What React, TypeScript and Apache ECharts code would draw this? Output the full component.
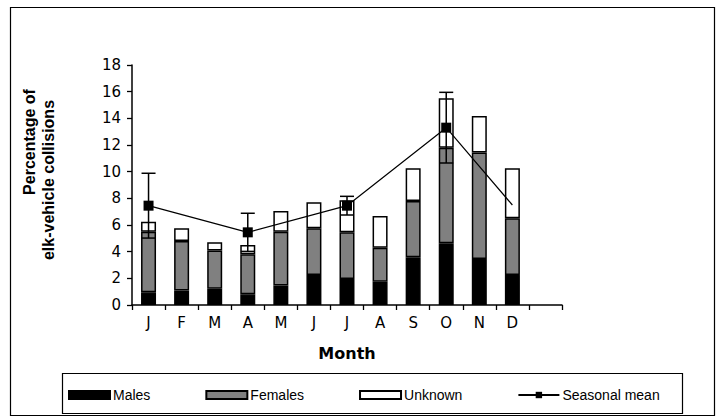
import React, { useEffect, useRef } from "react";
import * as echarts from "echarts";

const months = ["J", "F", "M", "A", "M", "J", "J", "A", "S", "O", "N", "D", ""];
const males = [0.95, 1.08, 1.22, 0.8, 1.47, 2.25, 1.95, 1.75, 3.58, 4.63, 3.45, 2.25, null];
const females = [4.55, 3.72, 2.86, 3.0, 4.03, 3.5, 3.5, 2.55, 4.22, 7.17, 7.98, 4.25, null];
const unknown = [0.75, 0.95, 0.62, 0.7, 1.55, 1.95, 2.4, 2.38, 2.45, 3.7, 2.75, 3.75, null];
const seasonalMean = [7.45, null, null, 5.45, null, null, 7.45, null, null, 13.3, null, 7.5, null];
const seasonalErr = [2.43, null, null, 1.43, null, null, 0.7, null, null, 2.65, null, null, null];
const yTicks = { min: 0, max: 18, interval: 2 };

const FONT = "Liberation Sans";
const WIDE = "DejaVu Sans";

export default function App() {
  const ref = useRef<HTMLDivElement>(null);
  useEffect(() => {
    const chart = echarts.init(ref.current!, null, { renderer: "svg" });
    const errData = seasonalMean
      .map((m, i) => (m != null && seasonalErr[i] != null ? [i, m, seasonalErr[i]] : null))
      .filter((d) => d != null);
    const barBorder = { borderColor: "#000", borderWidth: 1.5 };
    chart.setOption({
      animation: false,
      backgroundColor: "#fff",
      grid: { left: 132, right: 158, top: 65, bottom: 113, containLabel: false },
      xAxis: {
        type: "category",
        data: months,
        boundaryGap: true,
        name: "Month",
        nameLocation: "middle",
        nameGap: 40,
        nameTextStyle: { fontFamily: WIDE, fontSize: 16, fontWeight: "bold", color: "#000" },
        axisLine: { lineStyle: { color: "#000", width: 1.5 } },
        axisTick: { show: true, length: 5, lineStyle: { color: "#000", width: 1.3 }, alignWithLabel: false },
        axisLabel: { fontFamily: WIDE, fontSize: 15, color: "#000", margin: 10, interval: 0 },
        splitLine: { show: false },
      },
      yAxis: {
        type: "value",
        min: yTicks.min,
        max: yTicks.max,
        interval: yTicks.interval,
        axisLine: { show: true, lineStyle: { color: "#000", width: 1.5 } },
        axisTick: { show: true, length: 5, lineStyle: { color: "#000", width: 1.3 } },
        axisLabel: { fontFamily: WIDE, fontSize: 15, color: "#000", margin: 11 },
        splitLine: { show: false },
      },
      legend: {
        data: [
          { name: "Males", icon: "rect" },
          { name: "Females", icon: "rect" },
          { name: "Unknown", icon: "rect" },
          { name: "Seasonal mean" },
        ],
        left: 68,
        top: 388,
        padding: 0,
        itemGap: 55,
        itemWidth: 41,
        itemHeight: 8,
        textStyle: { fontFamily: FONT, fontSize: 14, color: "#000", padding: [0, 0, 0, -2] },
      },
      graphic: [
        {
          type: "rect",
          shape: { x: 10.5, y: 7.5, width: 704, height: 408 },
          style: { fill: "none", stroke: "#000", lineWidth: 1.2 },
          silent: true,
        },
        {
          type: "rect",
          shape: { x: 62.5, y: 373.5, width: 620, height: 40 },
          style: { fill: "none", stroke: "#000", lineWidth: 1.2 },
          silent: true,
        },
        {
          type: "text",
          x: 29,
          y: 142,
          rotation: Math.PI / 2,
          style: {
            text: "Percentage of",
            fontFamily: FONT,
            fontSize: 16,
            fontWeight: "bold",
            fill: "#000",
            textAlign: "center",
            textVerticalAlign: "middle",
          },
        },
        {
          type: "text",
          x: 48,
          y: 180,
          rotation: Math.PI / 2,
          style: {
            text: "elk-vehicle collisions",
            fontFamily: FONT,
            fontSize: 16,
            fontWeight: "bold",
            fill: "#000",
            textAlign: "center",
            textVerticalAlign: "middle",
          },
        },
      ],
      series: [
        {
          name: "Males",
          type: "bar",
          stack: "total",
          barWidth: 15,
          data: males,
          itemStyle: { color: "#000", ...barBorder },
        },
        {
          name: "Females",
          type: "bar",
          stack: "total",
          barWidth: 15,
          data: females,
          itemStyle: { color: "#808080", ...barBorder },
        },
        {
          name: "Unknown",
          type: "bar",
          stack: "total",
          barWidth: 15,
          data: unknown,
          itemStyle: { color: "#fff", ...barBorder },
        },
        {
          name: "errors",
          type: "custom",
          z: 3,
          data: errData,
          encode: { x: 0, y: [1] },
          renderItem: (params: any, api: any) => {
            const i = api.value(0);
            const m = api.value(1);
            const e = api.value(2);
            const top = api.coord([i, m + e]);
            const bot = api.coord([i, m - e]);
            const half = 7;
            const st = { stroke: "#000", lineWidth: 1.5 };
            return {
              type: "group",
              children: [
                { type: "line", shape: { x1: top[0], y1: top[1], x2: bot[0], y2: bot[1] }, style: st },
                { type: "line", shape: { x1: top[0] - half, y1: top[1], x2: top[0] + half, y2: top[1] }, style: st },
                { type: "line", shape: { x1: bot[0] - half, y1: bot[1], x2: bot[0] + half, y2: bot[1] }, style: st },
              ],
            };
          },
        },
        {
          name: "Seasonal mean",
          type: "line",
          z: 4,
          connectNulls: true,
          symbol: "rect",
          symbolSize: 10,
          data: seasonalMean.map((v, i) => (i === 11 ? { value: v, symbol: "none" } : v)),
          itemStyle: { color: "#000" },
          lineStyle: { color: "#000", width: 1.2 },
        },
      ],
    });
    return () => chart.dispose();
  }, []);
  return (
    <div
      ref={ref}
      style={{ position: "fixed", left: 0, top: 0, width: 720, height: 418, background: "#fff" }}
    />
  );
}
